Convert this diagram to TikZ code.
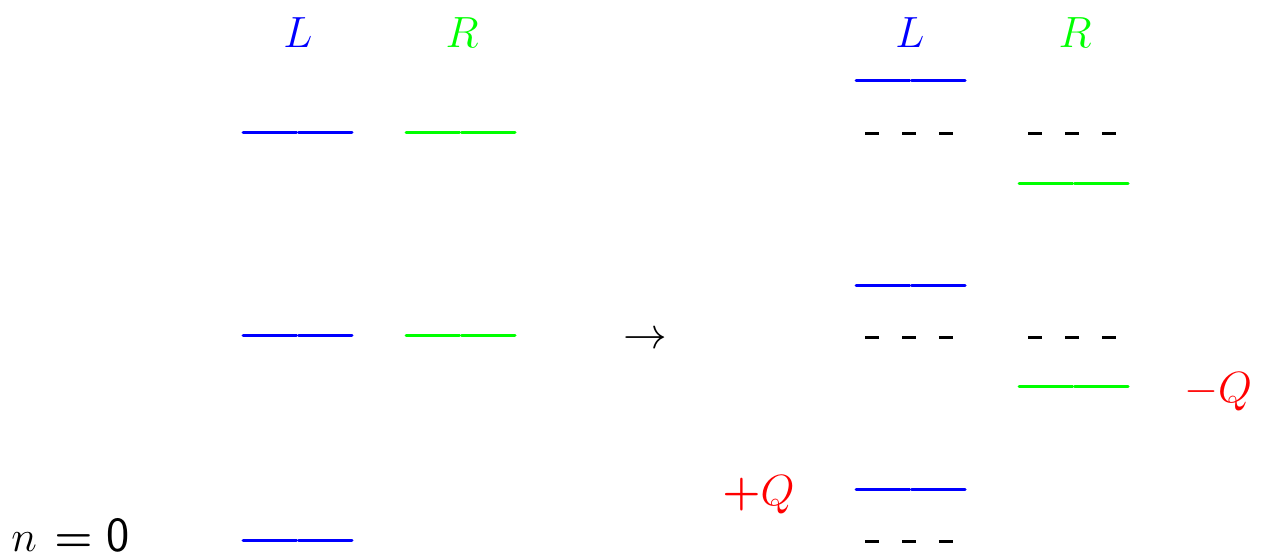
\documentclass[tikz,border=0pt]{standalone}
\usepackage{amsmath}
\begin{document}
\begin{tikzpicture}[x=0.02cm, y=-0.02cm, font=\fontsize{28}{32}\selectfont,
    level/.style={line width=0.06cm, line cap=round},
    ghost/.style={line width=0.06cm, dash pattern=on 0.28cm off 0.46cm}]
    \useasboundingbox (0,0) rectangle (1268,558);

    % Before: separate wells
    \begin{scope}
        \node[blue] (Lb) at (298,33) {$L$};
        \node[green] (Rb) at (462,33) {$R$};
        \foreach \y in {132,335,540}
            \draw[level, blue] (243,\y) -- (296.5,\y) (298.5,\y) -- (352,\y);
        \foreach \y in {132,335}
            \draw[level, green] (406,\y) -- (459.5,\y) (461.5,\y) -- (515,\y);
        \node[anchor=base west, inner sep=0pt] (n0) at (11,551)
            {{\fontsize{25}{30}\selectfont$n$}\hspace{10pt}%
             {\fontsize{31}{36}\selectfont$\boldsymbol{=}$}\hspace{8pt}%
             {\fontsize{28}{30}\selectfont\textsf{0}}};
    \end{scope}

    \node (to) at (645,340) {$\rightarrow$};

    % After: shifted levels
    \begin{scope}
        \node[blue] (La) at (910,33) {$L$};
        \node[green] (Ra) at (1075,33) {$R$};
        \foreach \y in {80,285,489}
            \draw[level, blue] (856,\y) -- (909.5,\y) (911.5,\y) -- (965,\y);
        \foreach \y in {183,386}
            \draw[level, green] (1019,\y) -- (1072.5,\y) (1074.5,\y) -- (1128,\y);
        \foreach \y in {133,337,541}
            \draw[ghost] (865,\y) -- (953,\y);
        \foreach \y in {133,337}
            \draw[ghost] (1028,\y) -- (1116,\y);
        \node[red, anchor=base west, inner sep=0pt] (qp) at (722,505)
            {{\fontsize{31}{36}\selectfont$\boldsymbol{+}$}\hspace{0pt}%
             {\fontsize{33}{36}\selectfont$Q$}};
        \node[red, anchor=base] (qm) at (1218,402) {$-Q$};
    \end{scope}
\end{tikzpicture}
\end{document}
